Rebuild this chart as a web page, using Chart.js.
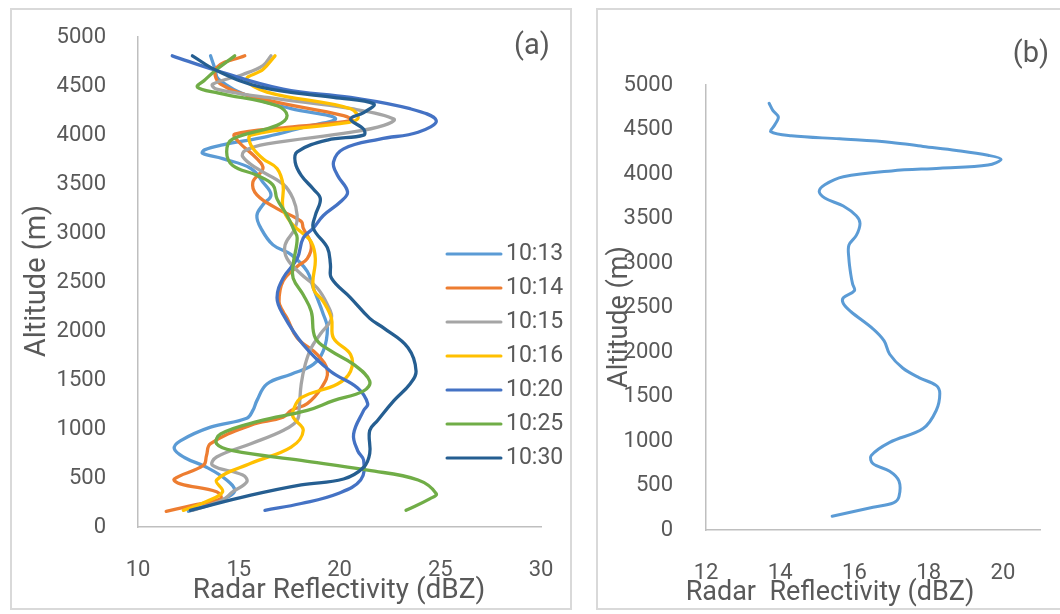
<!DOCTYPE html>
<html>
<head>
<meta charset="utf-8">
<script src="https://cdn.jsdelivr.net/npm/chart.js@4.4.1/dist/chart.umd.min.js"></script>
<style>
  html, body { margin: 0; padding: 0; background: #fff; }
  body { width: 1060px; height: 614px; position: relative; overflow: hidden; }
  canvas { position: absolute; top: 0; }
  #chartA { left: 0; }
  #chartB { left: 590px; }
  .frame { position: absolute; box-sizing: border-box; border: 2px solid #d9d9d9; pointer-events: none; }
</style>
</head>
<body>
<div class="frame" style="left:10px;top:8px;width:562px;height:602px"></div>
<div class="frame" style="left:596px;top:8px;width:480px;height:602px"></div>
<canvas id="chartA" width="590" height="614"></canvas>
<canvas id="chartB" width="470" height="614"></canvas>
<script>
// ---- panel (a): reflectivity profiles, altitude (m) top -> bottom ----
const LABELS = ["10:13", "10:14", "10:15", "10:16", "10:20", "10:25", "10:30"];

const ALT_1013 = [4810,4690,4570,4390,4270,4170,4080,3985,3900,3850,3815,3760,3660,3520,3390,3290,3180,3050,2880,2780,2610,2440,2170,2030,1800,1660,1560,1460,1290,1190,1110,1020,880,800,710,610,480,370,290,220,160];
const DBZ_1013 = [13.6,13.8,14.0,15.6,17.6,19.8,18.2,16.4,14.2,13.3,13.2,14.2,15.6,16.2,16.6,16.2,15.9,16.1,16.7,17.6,18.4,18.7,19.2,19.4,19.2,18.7,17.6,16.4,15.9,15.7,15.4,13.6,12.1,11.8,12.3,13.4,14.4,14.8,14.3,13.4,12.5];

const ALT_1014 = [4810,4690,4520,4360,4200,4150,4080,4010,3930,3760,3660,3520,3390,3250,3120,3050,2880,2740,2660,2510,2300,2200,2130,1930,1760,1590,1420,1260,1190,1120,1040,850,730,630,490,440,360,290,220,160];
const DBZ_1014 = [15.3,13.9,14.1,16.4,20.2,20.6,17.4,14.8,15.0,15.9,16.2,15.7,15.9,16.9,18.1,18.2,18.6,18.4,17.9,17.2,17.0,17.2,17.4,17.9,18.9,19.4,19.1,18.4,17.6,17.2,15.6,13.6,13.4,13.25,11.8,12.1,13.9,14.1,12.7,11.4];

const ALT_1015 = [4810,4710,4620,4520,4470,4385,4270,4165,4100,4030,3910,3840,3780,3660,3500,3350,3180,3050,2880,2740,2580,2440,2270,2130,1970,1830,1660,1460,1220,1090,985,850,715,630,530,460,360,275,170];
const DBZ_1015 = [16.6,16.2,15.2,13.7,13.9,16.4,20.6,22.7,22.2,20.6,16.4,15.3,15.2,15.9,17.2,17.7,17.9,17.8,17.3,17.4,18.1,18.9,19.4,19.6,19.05,18.6,18.3,18.1,18.0,17.9,17.2,15.6,13.9,13.7,15.2,15.4,14.7,14.2,12.7];

const ALT_1016 = [4810,4670,4570,4440,4270,4165,4115,4000,3900,3760,3660,3490,3250,3080,3010,2910,2740,2440,2300,2130,1930,1760,1590,1460,1320,1190,1120,985,815,650,480,360,260,170];
const DBZ_1016 = [16.8,16.2,15.4,16.4,20.55,20.9,19.9,15.6,15.6,16.2,16.9,17.2,17.2,17.7,18.1,18.6,18.8,18.7,19.2,19.6,19.7,20.55,20.55,19.9,18.1,17.7,17.7,18.2,17.6,15.6,13.9,14.2,13.4,12.25];

const ALT_1020 = [4810,4660,4470,4385,4270,4150,4030,3960,3860,3725,3590,3420,3320,3180,3050,2950,2740,2540,2340,2170,1860,1590,1420,1260,1190,950,780,680,480,340,240,170];
const DBZ_1020 = [11.7,13.9,17.2,20.55,23.5,24.8,23.9,22.0,20.2,19.7,19.9,20.4,20.05,19.2,18.7,18.2,17.9,17.2,16.9,17.2,18.2,19.55,20.9,21.4,21.2,20.7,20.9,21.2,21.05,19.9,18.1,16.3];

const ALT_1025 = [4810,4670,4560,4490,4430,4300,4200,4100,3960,3830,3690,3590,3490,3350,3180,3050,2950,2680,2540,2370,2200,1930,1800,1660,1490,1390,1290,1190,1080,950,850,780,680,580,480,340,290,170];
const DBZ_1025 = [14.8,13.9,13.3,12.95,14.0,16.9,17.4,16.9,14.7,14.4,14.7,15.9,16.7,16.9,17.4,17.7,17.9,17.7,17.7,18.2,18.6,18.8,19.55,20.7,21.5,21.2,19.7,18.4,16.0,14.1,13.9,14.7,18.1,21.4,23.9,24.8,24.5,23.3];

const ALT_1030 = [4810,4660,4490,4385,4320,4230,4165,4060,4000,3950,3830,3725,3590,3450,3350,3180,3050,2850,2680,2540,2340,2130,2030,1830,1590,1460,1290,1090,985,750,610,490,430,325,170];
const DBZ_1030 = [12.7,13.9,16.1,19.7,21.7,21.2,20.55,21.2,21.2,19.4,17.9,17.8,18.1,18.7,19.05,18.8,18.7,19.4,19.55,19.6,20.55,21.5,22.2,23.4,23.8,23.5,22.7,21.9,21.5,21.5,21.2,20.2,18.1,15.6,12.6];

const COLORS = ["#5B9BD5", "#ED7D31", "#A5A5A5", "#FFC000", "#4472C4", "#70AD47", "#255E91"];

// ---- panel (b): single profile ----
const ALT_B = [4795,4715,4640,4550,4475,4430,4395,4355,4310,4265,4210,4165,4100,4065,4035,3970,3880,3805,3730,3640,3530,3445,3310,3200,3050,2875,2765,2690,2610,2545,2455,2260,2125,1975,1820,1710,1625,1535,1340,1140,985,835,745,660,550,375,305,255,155];
const DBZ_B = [13.7,13.8,13.95,13.85,13.75,14.3,15.6,17.0,17.85,18.75,19.6,19.95,19.6,18.3,17.0,15.7,15.2,15.05,15.2,15.7,16.05,16.15,16.05,15.85,15.85,15.9,15.95,16.0,15.7,15.7,15.9,16.5,16.8,16.95,17.3,17.75,18.2,18.3,18.2,17.85,16.95,16.45,16.5,16.95,17.2,17.2,17.05,16.5,15.4];

const X_TITLE = "Radar Reflectivity (dBZ)";
const X_TITLE_B = "Radar  Reflectivity (dBZ)";
const Y_TITLE = "Altitude (m)";

const FONT = "Roboto";
const TXT = "#595959";
const AXIS = "#BFBFBF";

const toPoints = (alt, dbz) => alt.map((a, i) => ({ x: dbz[i], y: a }));
const plain = v => String(v);   // no thousands separator, like Excel

// extra texts: panel letters, free-placed titles
const panelText = {
  id: "panelText",
  afterDraw(chart, args, opts) {
    const ctx = chart.ctx;
    (opts.items || []).forEach(t => {
      ctx.save();
      ctx.font = t.size + "px " + FONT;
      ctx.fillStyle = TXT;
      ctx.textAlign = "center";
      ctx.textBaseline = "middle";
      ctx.translate(t.x, t.y);
      if (t.rot) ctx.rotate(t.rot);
      ctx.fillText(t.text, 0, 0);
      ctx.restore();
    });
  }
};

// legend sitting inside the plot, right side
const legendInside = {
  id: "legendInside",
  afterDraw(chart, args, opts) {
    if (!opts.show) return;
    const ctx = chart.ctx;
    ctx.save();
    ctx.font = opts.size + "px " + FONT;
    ctx.fillStyle = TXT;
    ctx.textBaseline = "middle";
    chart.data.datasets.forEach((ds, i) => {
      const y = opts.y + i * opts.gap;
      ctx.strokeStyle = ds.borderColor;
      ctx.lineWidth = 3;
      ctx.lineCap = "round";
      ctx.beginPath();
      ctx.moveTo(opts.x, y);
      ctx.lineTo(opts.x + opts.len, y);
      ctx.stroke();
      ctx.fillText(ds.label, opts.x + opts.len + 5, y);
    });
    ctx.restore();
  }
};

const tickFont = { family: FONT, size: 22 };

const seriesA = [
  [ALT_1013, DBZ_1013], [ALT_1014, DBZ_1014], [ALT_1015, DBZ_1015], [ALT_1016, DBZ_1016],
  [ALT_1020, DBZ_1020], [ALT_1025, DBZ_1025], [ALT_1030, DBZ_1030]
];

new Chart(document.getElementById("chartA"), {
  type: "scatter",
  data: {
    datasets: seriesA.map(([alt, dbz], i) => ({
      label: LABELS[i],
      data: toPoints(alt, dbz),
      showLine: true,
      borderColor: COLORS[i],
      backgroundColor: COLORS[i],
      borderWidth: 3.3,
      pointRadius: 0,
      tension: 0.4,
      borderCapStyle: "round",
      order: seriesA.length - i   // later series on top, like the original
    }))
  },
  options: {
    responsive: false,
    animation: false,
    layout: { padding: { left: 10, top: 34, right: 49, bottom: 5 } },
    plugins: {
      legend: { display: false },
      tooltip: { enabled: false },
      legendInside: { show: true, x: 447, y: 254, gap: 34, len: 54, size: 23 },
      panelText: {
        items: [
          { text: "(a)", x: 532, y: 47, size: 29 },
          { text: X_TITLE, x: 339, y: 591, size: 28 },
          { text: Y_TITLE, x: 38, y: 281, size: 29, rot: -Math.PI / 2 }
        ]
      }
    },
    scales: {
      x: {
        type: "linear", min: 10, max: 30,
        ticks: { stepSize: 5, padding: 22, color: TXT, font: tickFont, callback: plain },
        grid: { display: false },
        border: { color: AXIS, width: 1.5 },
        afterFit: s => { s.height = 82; }
      },
      y: {
        type: "linear", min: 0, max: 5000,
        ticks: { stepSize: 500, padding: 24, color: TXT, font: tickFont, callback: plain },
        grid: { display: false },
        border: { color: AXIS, width: 1.5 },
        afterFit: s => { s.width = 128; }
      }
    }
  },
  plugins: [panelText, legendInside]
});

new Chart(document.getElementById("chartB"), {
  type: "scatter",
  data: {
    datasets: [{
      label: "mean",
      data: toPoints(ALT_B, DBZ_B),
      showLine: true,
      borderColor: COLORS[0],
      borderWidth: 3,
      pointRadius: 0,
      tension: 0.35,
      borderCapStyle: "round"
    }]
  },
  options: {
    responsive: false,
    animation: false,
    layout: { padding: { left: 10, top: 85, right: 20, bottom: 5 } },
    plugins: {
      legend: { display: false },
      tooltip: { enabled: false },
      panelText: {
        items: [
          { text: "(b)", x: 441, y: 55, size: 29 },
          { text: X_TITLE_B, x: 240, y: 593, size: 27 },
          { text: Y_TITLE, x: 30, y: 317, size: 27, rot: -Math.PI / 2 }
        ]
      }
    },
    scales: {
      x: {
        type: "linear", min: 12, max: 21,
        ticks: { stepSize: 2, includeBounds: false, padding: 22, color: TXT, font: tickFont, callback: plain },
        grid: { display: false },
        border: { color: AXIS, width: 1.5 },
        afterFit: s => { s.height = 79; }
      },
      y: {
        type: "linear", min: 0, max: 5000,
        ticks: { stepSize: 500, padding: 25, color: TXT, font: tickFont, callback: plain },
        grid: { display: false },
        border: { color: AXIS, width: 1.5 },
        afterFit: s => { s.width = 106; }
      }
    }
  },
  plugins: [panelText]
});
</script>
</body>
</html>
